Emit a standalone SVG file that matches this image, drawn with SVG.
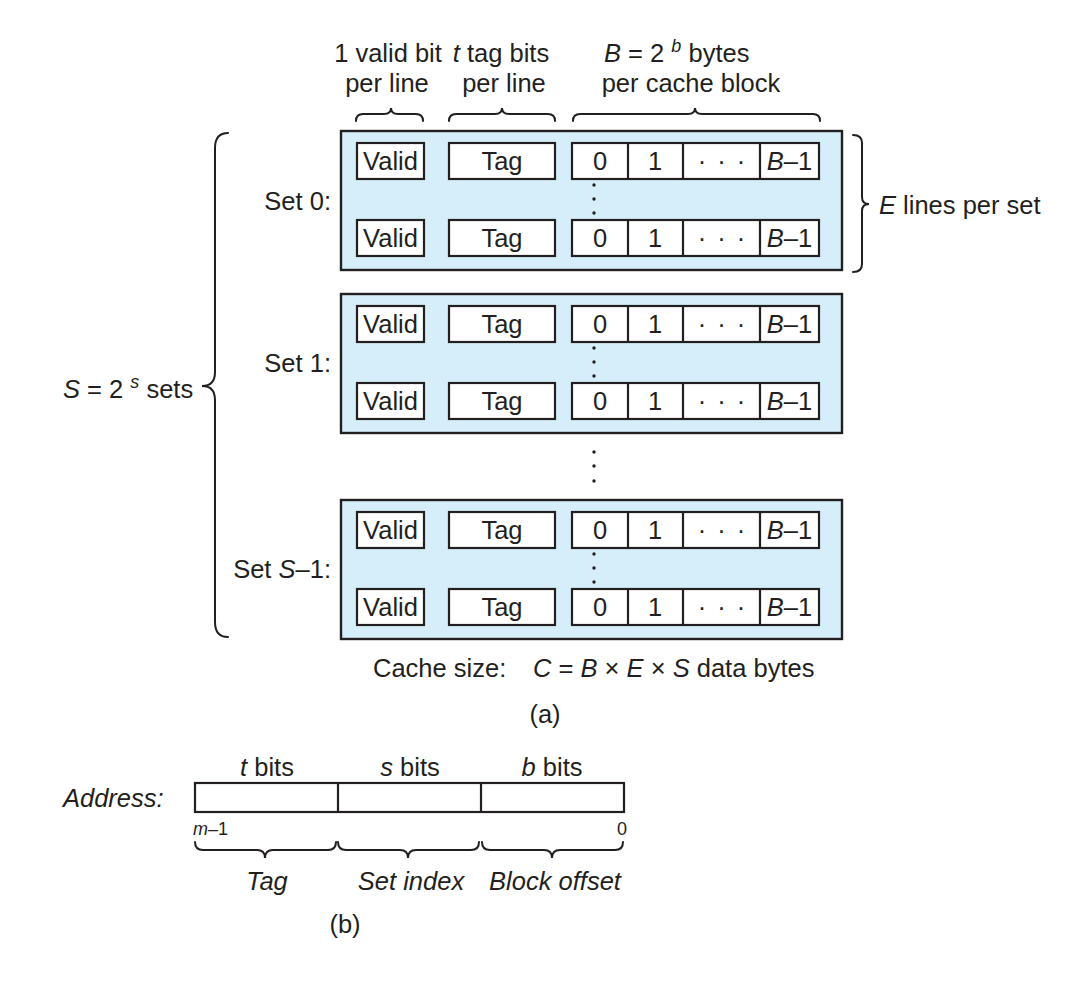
<svg xmlns="http://www.w3.org/2000/svg" width="1074" height="1002" viewBox="0 0 1074 1002">
<style>
text{font-family:"Liberation Sans",Arial,Helvetica,sans-serif;font-size:25.5px;fill:#231f20}
.it{font-style:italic}
.m{text-anchor:middle}
.e{text-anchor:end}
.set{fill:#d5eef9;stroke:#231f20;stroke-width:2.4}
.cell{fill:#ffffff;stroke:#231f20;stroke-width:2.2}
.div{stroke:#231f20;stroke-width:2.2}
.brace{fill:none;stroke:#231f20;stroke-width:2;stroke-linecap:round}
.dot{fill:#231f20}
.sm{font-size:18px}
</style>
<rect width="1074" height="1002" fill="#ffffff"/>

<g id="header">
<text class="m" x="388" y="62">1 valid bit</text>
<text class="m" x="387" y="92">per line</text>
<text class="m" x="501" y="62"><tspan class="it">t</tspan> tag bits</text>
<text class="m" x="504" y="92">per line</text>
<text x="604" y="62"><tspan class="it">B</tspan> = 2 <tspan dy="-10" font-size="18" class="it">b</tspan><tspan dy="10"> bytes</tspan></text>
<text class="m" x="691" y="92">per cache block</text>
<path class="brace" d="M356,121 Q356,114 363,114 L384,114 Q391,114 391,108 Q391,114 398,114 L416,114 Q423,114 423,121"/>
<path class="brace" d="M449,121 Q449,114 456,114 L495,114 Q502,114 502,108 Q502,114 509,114 L548,114 Q555,114 555,121"/>
<path class="brace" d="M573,121 Q573,114 580,114 L688,114 Q695,114 695,108 Q695,114 702,114 L813,114 Q820,114 820,121"/>
</g>

<g id="set0">
<rect class="set" x="341" y="131" width="501" height="139"/>
<text class="e" x="331" y="210">Set 0:</text>
<rect class="cell" x="357" y="143" width="67" height="36"/>
<rect class="cell" x="449" y="143" width="106" height="36"/>
<rect class="cell" x="572" y="143" width="247" height="36"/>
<path class="div" d="M628,143V179M683,143V179M760,143V179"/>
<text class="m" x="390.5" y="170">Valid</text>
<text class="m" x="502" y="170">Tag</text>
<text class="m" x="600" y="170">0</text>
<text class="m" x="655" y="170">1</text>
<text class="m" x="721.5" y="170" word-spacing="4">· · ·</text>
<text class="m" x="789.5" y="170"><tspan class="it">B</tspan>–1</text>
<circle class="dot" cx="594" cy="185" r="1.7"/>
<circle class="dot" cx="594" cy="199" r="1.7"/>
<circle class="dot" cx="594" cy="213" r="1.7"/>
<rect class="cell" x="357" y="220" width="67" height="36"/>
<rect class="cell" x="449" y="220" width="106" height="36"/>
<rect class="cell" x="572" y="220" width="247" height="36"/>
<path class="div" d="M628,220V256M683,220V256M760,220V256"/>
<text class="m" x="390.5" y="247">Valid</text>
<text class="m" x="502" y="247">Tag</text>
<text class="m" x="600" y="247">0</text>
<text class="m" x="655" y="247">1</text>
<text class="m" x="721.5" y="247" word-spacing="4">· · ·</text>
<text class="m" x="789.5" y="247"><tspan class="it">B</tspan>–1</text>
</g>

<g id="eLines">
<path class="brace" d="M853,135 Q862,135 862,143 L862,197 Q862,204 869,204 Q862,204 862,211 L862,264 Q862,272 853,272"/>
<text x="879" y="214"><tspan class="it">E</tspan> lines per set</text>
</g>

<g id="set1">
<rect class="set" x="341" y="294" width="501" height="139"/>
<text class="e" x="331" y="372">Set 1:</text>
<rect class="cell" x="357" y="306" width="67" height="36"/>
<rect class="cell" x="449" y="306" width="106" height="36"/>
<rect class="cell" x="572" y="306" width="247" height="36"/>
<path class="div" d="M628,306V342M683,306V342M760,306V342"/>
<text class="m" x="390.5" y="333">Valid</text>
<text class="m" x="502" y="333">Tag</text>
<text class="m" x="600" y="333">0</text>
<text class="m" x="655" y="333">1</text>
<text class="m" x="721.5" y="333" word-spacing="4">· · ·</text>
<text class="m" x="789.5" y="333"><tspan class="it">B</tspan>–1</text>
<circle class="dot" cx="594" cy="348" r="1.7"/>
<circle class="dot" cx="594" cy="362" r="1.7"/>
<circle class="dot" cx="594" cy="376" r="1.7"/>
<rect class="cell" x="357" y="383" width="67" height="36"/>
<rect class="cell" x="449" y="383" width="106" height="36"/>
<rect class="cell" x="572" y="383" width="247" height="36"/>
<path class="div" d="M628,383V419M683,383V419M760,383V419"/>
<text class="m" x="390.5" y="410">Valid</text>
<text class="m" x="502" y="410">Tag</text>
<text class="m" x="600" y="410">0</text>
<text class="m" x="655" y="410">1</text>
<text class="m" x="721.5" y="410" word-spacing="4">· · ·</text>
<text class="m" x="789.5" y="410"><tspan class="it">B</tspan>–1</text>
</g>

<g id="setDots">
<circle class="dot" cx="594" cy="452" r="1.7"/>
<circle class="dot" cx="594" cy="466" r="1.7"/>
<circle class="dot" cx="594" cy="481" r="1.7"/>
</g>

<g id="setS1">
<rect class="set" x="341" y="500" width="501" height="139"/>
<text class="e" x="331" y="578">Set <tspan class="it">S</tspan>–1:</text>
<rect class="cell" x="357" y="512" width="67" height="36"/>
<rect class="cell" x="449" y="512" width="106" height="36"/>
<rect class="cell" x="572" y="512" width="247" height="36"/>
<path class="div" d="M628,512V548M683,512V548M760,512V548"/>
<text class="m" x="390.5" y="539">Valid</text>
<text class="m" x="502" y="539">Tag</text>
<text class="m" x="600" y="539">0</text>
<text class="m" x="655" y="539">1</text>
<text class="m" x="721.5" y="539" word-spacing="4">· · ·</text>
<text class="m" x="789.5" y="539"><tspan class="it">B</tspan>–1</text>
<circle class="dot" cx="594" cy="554" r="1.7"/>
<circle class="dot" cx="594" cy="568" r="1.7"/>
<circle class="dot" cx="594" cy="582" r="1.7"/>
<rect class="cell" x="357" y="589" width="67" height="36"/>
<rect class="cell" x="449" y="589" width="106" height="36"/>
<rect class="cell" x="572" y="589" width="247" height="36"/>
<path class="div" d="M628,589V625M683,589V625M760,589V625"/>
<text class="m" x="390.5" y="616">Valid</text>
<text class="m" x="502" y="616">Tag</text>
<text class="m" x="600" y="616">0</text>
<text class="m" x="655" y="616">1</text>
<text class="m" x="721.5" y="616" word-spacing="4">· · ·</text>
<text class="m" x="789.5" y="616"><tspan class="it">B</tspan>–1</text>
</g>

<g id="sSets">
<path class="brace" d="M228,133 Q215,133 215,148 L215,372 Q215,386 202,386 Q215,386 215,400 L215,622 Q215,637 228,637"/>
<text x="63" y="398"><tspan class="it">S</tspan> = 2 <tspan dy="-10" font-size="18" class="it">s</tspan><tspan dy="10"> sets</tspan></text>
</g>

<g id="cacheSize">
<text x="373" y="677">Cache size:</text>
<text x="533" y="677"><tspan class="it">C</tspan> = <tspan class="it">B</tspan> × <tspan class="it">E</tspan> × <tspan class="it">S</tspan> data bytes</text>
<text class="m" x="545" y="723">(a)</text>
</g>

<g id="address">
<text class="it" x="63" y="807">Address:</text>
<text class="m" x="267" y="776"><tspan class="it">t</tspan> bits</text>
<text class="m" x="410" y="776"><tspan class="it">s</tspan> bits</text>
<text class="m" x="552" y="776"><tspan class="it">b</tspan> bits</text>
<rect class="cell" x="195" y="783" width="429" height="29"/>
<path class="div" d="M338,783V812M481,783V812"/>
<text class="sm" x="193" y="835"><tspan class="it">m</tspan>–1</text>
<text class="sm e" x="627" y="835">0</text>
<path class="brace" d="M195,842 Q195,850 203,850 L257,850 Q265,850 265,858 Q265,850 273,850 L328,850 Q336,850 336,842"/>
<path class="brace" d="M338,842 Q338,850 346,850 L400,850 Q408,850 408,858 Q408,850 416,850 L471,850 Q479,850 479,842"/>
<path class="brace" d="M482,842 Q482,850 490,850 L544,850 Q552,850 552,858 Q552,850 560,850 L615,850 Q623,850 623,842"/>
<text class="it m" x="267" y="890">Tag</text>
<text class="it m" x="411" y="890">Set index</text>
<text class="it m" x="555" y="890">Block offset</text>
<text class="m" x="345" y="933">(b)</text>
</g>
</svg>
